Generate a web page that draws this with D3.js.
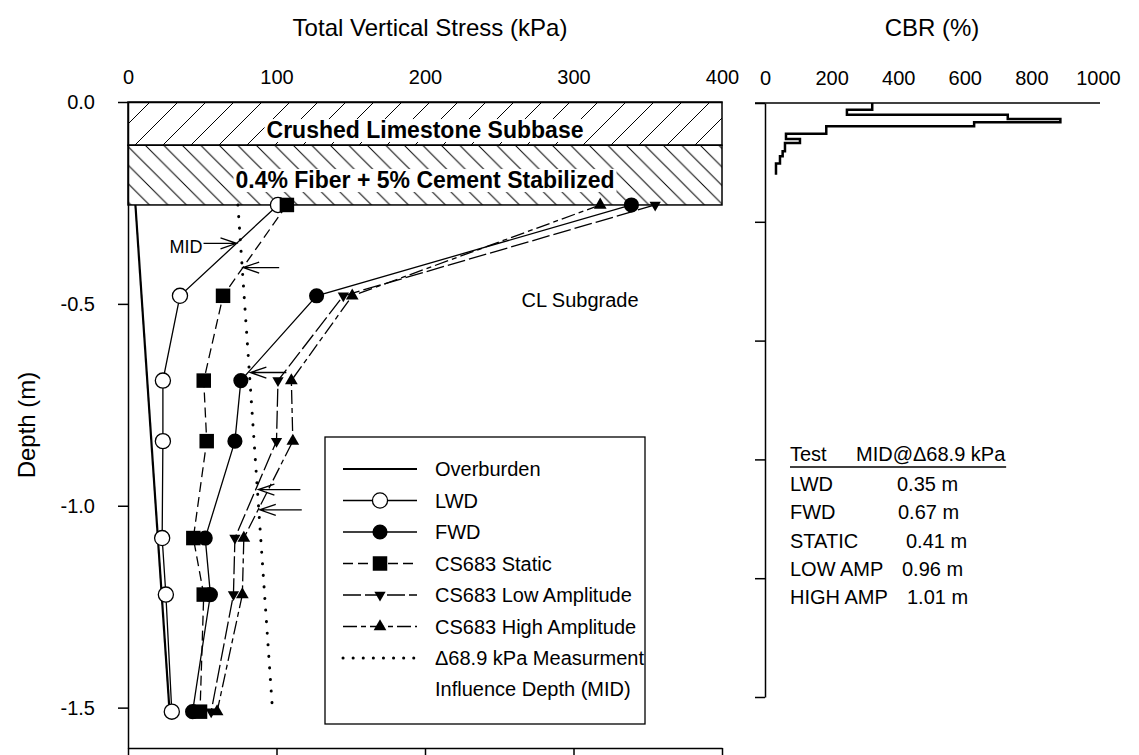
<!DOCTYPE html>
<html>
<head>
<meta charset="utf-8">
<script src="https://cdn.jsdelivr.net/npm/d3@7"></script>
<style>
body { margin: 0; background: #fff; }
text { font-family: "Liberation Sans", Arial, sans-serif; fill: #000; }
</style>
</head>
<body>
<svg id="chart" width="1139" height="755"></svg>
<script>
// depth of each test point (m, negative = below surface)
var depths   = [-0.255, -0.48, -0.69, -0.84, -1.08, -1.22, -1.51];
var lwd      = [101, 35, 23.5, 23.5, 23, 25.5, 29.5];
var fwd      = [339, 127, 76, 72, 52, 55.5, 43.5];
var csStatic = [107, 64, 51, 53, 44, 51, 48.5];
var csLow    = [355, 145, 101, 100, 72, 71, 56];
var csHigh   = [318, 151, 110, 111, 78, 77, 60];

var overDepth  = [-0.255, -1.51];
var overStress = [5, 28];
var midDepth   = [-0.255, -1.49];
var midStress  = [74, 97];

// layers
var layerNames  = ["Crushed Limestone Subbase", "0.4% Fiber + 5% Cement Stabilized"];
var layerTop    = [0, -0.107];
var layerBottom = [-0.107, -0.255];

// influence depths
var tests      = ["LWD", "FWD", "STATIC", "LOW AMP", "HIGH AMP"];
var midDepths  = [0.35, 0.67, 0.41, 0.96, 1.01];
var midLabels  = ["0.35 m", "0.67 m", "0.41 m", "0.96 m", "1.01 m"];

// DCP CBR profile (steps)
var cbrTop    = [0, 0.028, 0.049, 0.067, 0.081, 0.098, 0.129, 0.152, 0.168, 0.203, 0.224, 0.255];
var cbrBottom = [0.028, 0.049, 0.067, 0.081, 0.098, 0.129, 0.152, 0.168, 0.203, 0.224, 0.255, 0.302];
var cbrValue  = [322, 246, 729, 887, 628, 184, 63, 105, 60, 53, 45, 33];

var stressTicks = [0, 100, 200, 300, 400];
var depthTicks  = [0, -0.5, -1.0, -1.5];
var cbrTicks    = [0, 200, 400, 600, 800, 1000];
var cbrDepthTicks = [0, 0.5, 1.0, 1.5, 2.0, 2.5];

var svg = d3.select("#chart");

var x = d3.scaleLinear().domain([0, 400]).range([128, 722]);
var y = d3.scaleLinear().domain([0, -1.6]).range([102, 748]);
var xc = d3.scaleLinear().domain([0, 1000]).range([765, 1098]);
var yc = d3.scaleLinear().domain([0, 2.5]).range([103, 697]);

// hatch patterns
var defs = svg.append("defs");
var s1 = 28, s2 = 18.5;
defs.append("pattern").attr("id", "hatchA").attr("patternUnits", "userSpaceOnUse")
    .attr("width", s1).attr("height", s1)
  .append("path")
    .attr("d", "M0," + s1 + "L" + s1 + ",0M" + (-s1/4) + "," + (s1/4) + "L" + (s1/4) + "," + (-s1/4) +
               "M" + (3*s1/4) + "," + (5*s1/4) + "L" + (5*s1/4) + "," + (3*s1/4))
    .attr("stroke", "#000").attr("stroke-width", 1);
defs.append("pattern").attr("id", "hatchB").attr("patternUnits", "userSpaceOnUse")
    .attr("width", s2).attr("height", s2)
  .append("path")
    .attr("d", "M0,0L" + s2 + "," + s2 + "M" + (-s2/4) + "," + (3*s2/4) + "L" + (s2/4) + "," + (5*s2/4) +
               "M" + (3*s2/4) + "," + (-s2/4) + "L" + (5*s2/4) + "," + (s2/4))
    .attr("stroke", "#000").attr("stroke-width", 1);

var layers = svg.append("g").classed("layers", true);
layers.selectAll("rect")
  .data(layerNames)
  .enter()
  .append("rect")
  .attr("x", x(0))
  .attr("y", function(d, i) { return y(layerTop[i]); })
  .attr("width", x(400) - x(0))
  .attr("height", function(d, i) { return y(layerBottom[i]) - y(layerTop[i]); })
  .attr("fill", function(d, i) { return i == 0 ? "url(#hatchA)" : "url(#hatchB)"; })
  .attr("stroke", "#000")
  .attr("stroke-width", 1.5);

var labelY = [130, 180]; //centre of each layer label
layerNames.forEach(function(name, i) {
  var bg = layers.append("rect").attr("fill", "#fff");
  var t = layers.append("text")
    .attr("x", (x(0) + x(400)) / 2)
    .attr("y", labelY[i])
    .attr("dy", "0.35em")
    .attr("text-anchor", "middle")
    .style("font-size", "23px")
    .style("font-weight", "bold")
    .text(name);
  var b = t.node().getBBox();
  bg.attr("x", b.x - 2).attr("y", b.y + 2).attr("width", b.width + 4).attr("height", b.height - 3);
});

// axes
svg.append("g")
   .attr("transform", "translate(0," + y(0) + ")")
   .call(d3.axisTop(x).tickValues(stressTicks).tickSize(0).tickPadding(18).tickSizeOuter(0))
   .call(function(g) { g.select(".domain").attr("stroke-width", 1.5); })
   .selectAll("text").style("font-size", "20px");

svg.append("g")
   .attr("transform", "translate(0," + y(-1.6) + ")")
   .call(d3.axisBottom(x).tickValues(stressTicks).tickSize(9).tickSizeOuter(0).tickFormat(""))
   .selectAll("path,line").attr("stroke-width", 1.5);

svg.append("g")
   .attr("transform", "translate(" + x(0) + ",0)")
   .call(d3.axisLeft(y).tickValues(depthTicks).tickSize(10).tickPadding(23).tickSizeOuter(0)
           .tickFormat(function(d) { return d.toFixed(1); }))
   .call(function(g) { g.selectAll("path,line").attr("stroke-width", 1.5); })
   .selectAll("text").style("font-size", "20px");

svg.append("text")
   .attr("x", (x(0) + x(400)) / 2 + 5).attr("y", 36)
   .attr("text-anchor", "middle").style("font-size", "24px")
   .text("Total Vertical Stress (kPa)");

svg.append("text")
   .attr("transform", "translate(35," + ((y(0) + y(-1.6)) / 2) + ") rotate(-90)")
   .attr("text-anchor", "middle").style("font-size", "24px")
   .text("Depth (m)");

// series
var line = d3.line()
  .x(function(d) { return x(d[0]); })
  .y(function(d) { return y(d[1]); });

var series = [
  { name: "Overburden", vals: overStress, dep: overDepth, dash: null, width: 2.2, sym: null },
  { name: "LWD", vals: lwd, dep: depths, dash: null, width: 1.3, sym: d3.symbolCircle, size: 180, fill: "#fff" },
  { name: "CS683 Static", vals: csStatic, dep: depths, dash: "10,5", width: 1.3, sym: d3.symbolSquare, size: 210, fill: "#000" },
  { name: "FWD", vals: fwd, dep: depths, dash: null, width: 1.3, sym: d3.symbolCircle, size: 180, fill: "#000" },
  { name: "CS683 Low Amplitude", vals: csLow, dep: depths, dash: "18,4", width: 1.3, sym: d3.symbolTriangle, size: 55, fill: "#000", rot: 180 },
  { name: "CS683 High Amplitude", vals: csHigh, dep: depths, dash: "14,4,5,4", width: 1.3, sym: d3.symbolTriangle, size: 70, fill: "#000", rot: 0 },
  { name: "MID", vals: midStress, dep: midDepth, dash: "0.1,11.5", width: 3, cap: "round", sym: null }
];

var plot = svg.append("g").classed("series", true);
series.forEach(function(s) {
  var pts = s.vals.map(function(v, i) { return [v, s.dep[i]]; });
  plot.append("path")
      .datum(pts)
      .attr("d", line)
      .attr("fill", "none")
      .attr("stroke", "#000")
      .attr("stroke-width", s.width)
      .attr("stroke-linecap", s.cap || "butt")
      .attr("stroke-dasharray", s.dash);
});
series.forEach(function(s) {
  if (!s.sym) return;
  plot.append("g")
      .selectAll("path")
      .data(s.vals)
      .enter()
      .append("path")
      .attr("d", d3.symbol().type(s.sym).size(s.size))
      .attr("transform", function(d, i) {
        return "translate(" + x(d) + "," + y(s.dep[i]) + ")" + (s.rot ? " rotate(" + s.rot + ")" : "");
      })
      .attr("fill", s.fill)
      .attr("stroke", s.fill == "#fff" ? "#000" : "none")
      .attr("stroke-width", 1.3);
});

// MID arrows
var midAt = function(d) {
  return midStress[0] + (d - (-midDepth[0])) / ((-midDepth[1]) - (-midDepth[0])) * (midStress[1] - midStress[0]);
};
var arrowLen = [33, 36, 36, 42, 42];
var arrows = svg.append("g").classed("arrows", true);
midDepths.forEach(function(d, i) {
  var tx = x(midAt(d)) - (i == 0 ? 4 : -1), ty = y(-d);
  var dir = i == 0 ? -1 : 1;
  var tail = tx + dir * arrowLen[i];
  arrows.append("path")
    .attr("d", "M" + tail + "," + ty + "L" + tx + "," + ty +
               "M" + (tx + dir * 16) + "," + (ty - 5.5) + "L" + tx + "," + ty + "L" + (tx + dir * 16) + "," + (ty + 5.5))
    .attr("fill", "none").attr("stroke", "#000").attr("stroke-width", 1.3);
  if (i == 0) {
    arrows.append("text")
      .attr("x", tail - 1).attr("y", ty + 10)
      .attr("text-anchor", "end").style("font-size", "18px")
      .text("MID");
  }
});

svg.append("text")
   .attr("x", 580).attr("y", y(-0.49)).attr("dy", "0.35em")
   .attr("text-anchor", "middle").style("font-size", "20px")
   .text("CL Subgrade");

// legend
var legendOrder = ["Overburden", "LWD", "FWD", "CS683 Static", "CS683 Low Amplitude", "CS683 High Amplitude", "MID"];
var legendText = ["Overburden", "LWD", "FWD", "CS683 Static", "CS683 Low Amplitude", "CS683 High Amplitude", "\u039468.9 kPa Measurment"];
var legend = svg.append("g").classed("legend", true);
legend.append("rect")
  .attr("x", 325).attr("y", 437).attr("width", 320).attr("height", 287)
  .attr("fill", "#fff").attr("stroke", "#000").attr("stroke-width", 1.3);
legendOrder.forEach(function(name, i) {
  var s = series.filter(function(q) { return q.name == name; })[0];
  var ly = 469 + i * 31.5;
  legend.append("line")
    .attr("x1", 343).attr("x2", 417).attr("y1", ly).attr("y2", ly)
    .attr("stroke", "#000").attr("stroke-width", s.width)
    .attr("stroke-linecap", s.cap || "butt")
    .attr("stroke-dasharray", s.cap ? "0.1,10" : s.dash);
  if (s.sym) {
    legend.append("path")
      .attr("d", d3.symbol().type(s.sym).size(s.size))
      .attr("transform", "translate(380," + ly + ")" + (s.rot ? " rotate(" + s.rot + ")" : ""))
      .attr("fill", s.fill)
      .attr("stroke", s.fill == "#fff" ? "#000" : "none")
      .attr("stroke-width", 1.3);
  }
  legend.append("text")
    .attr("x", 435).attr("y", ly).attr("dy", "0.35em")
    .style("font-size", "20px")
    .text(legendText[i]);
});
legend.append("text")
  .attr("x", 435).attr("y", 469 + 6 * 31.5 + 31).attr("dy", "0.35em")
  .style("font-size", "20px")
  .text("Influence Depth (MID)");

// CBR plot
svg.append("g")
   .attr("transform", "translate(0," + yc(0) + ")")
   .call(d3.axisTop(xc).tickValues(cbrTicks).tickSize(0).tickPadding(18).tickSizeOuter(0).tickFormat(d3.format("d")))
   .call(function(g) { g.select(".domain").attr("stroke-width", 1.5).attr("d", "M755,0H1100"); })
   .selectAll("text").style("font-size", "20px");

svg.append("g")
   .attr("transform", "translate(" + xc(0) + ",0)")
   .call(d3.axisLeft(yc).tickValues(cbrDepthTicks).tickSize(10).tickSizeOuter(0).tickFormat(""))
   .selectAll("path,line").attr("stroke-width", 1.5);

svg.append("text")
   .attr("x", 932).attr("y", 36)
   .attr("text-anchor", "middle").style("font-size", "24px")
   .text("CBR (%)");

var cbrPts = [];
cbrValue.forEach(function(v, i) {
  cbrPts.push([v, cbrTop[i]]);
  cbrPts.push([v, cbrBottom[i]]);
});
svg.append("path")
   .datum(cbrPts)
   .attr("d", d3.line().x(function(d) { return xc(d[0]); }).y(function(d) { return yc(d[1]); }))
   .attr("fill", "none")
   .attr("stroke", "#000")
   .attr("stroke-width", 2.5);

// table of influence depths
var table = svg.append("g").classed("table", true).style("font-size", "20px");
var head = table.append("g");
head.append("text").attr("x", 790).attr("y", 454).attr("dy", "0.35em").text("Test");
head.append("text").attr("x", 856).attr("y", 454).attr("dy", "0.35em").text("MID@\u039468.9 kPa");
var hb = head.node().getBBox();
table.append("line")
  .attr("x1", hb.x).attr("x2", hb.x + hb.width)
  .attr("y1", 467).attr("y2", 467)
  .attr("stroke", "#000").attr("stroke-width", 1.5);
var valueX = [897, 898, 906, 902, 907];
tests.forEach(function(t, i) {
  var ty = 484 + i * 28.3;
  table.append("text").attr("x", 790).attr("y", ty).attr("dy", "0.35em").text(t);
  table.append("text").attr("x", valueX[i]).attr("y", ty).attr("dy", "0.35em").text(midLabels[i]);
});
</script>
</body>
</html>
